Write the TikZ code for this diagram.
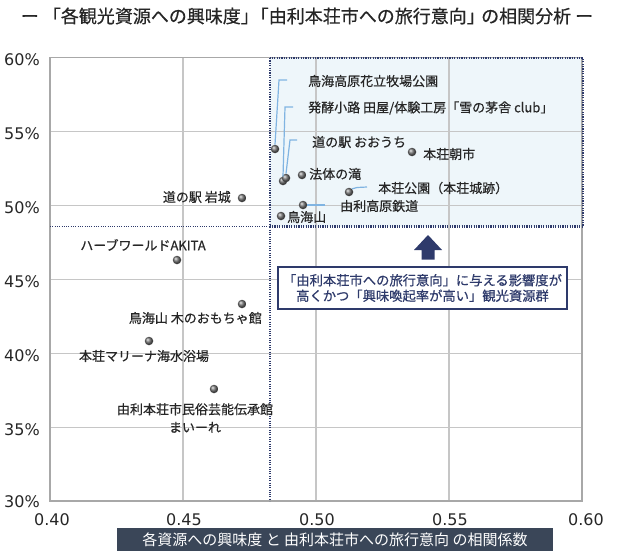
\documentclass[tikz,border=0pt]{standalone}
\usepackage{fontspec}
\setmainfont{Noto Sans CJK JP}[BoldFont=Noto Sans CJK JP, BoldFeatures={FakeBold=0.5}]
\newfontfamily\numfont{DejaVu Sans}
\definecolor{navy}{HTML}{2E3A6B}
\definecolor{gridc}{HTML}{C6C6C6}
\definecolor{framec}{HTML}{A8A8A8}
\definecolor{boxfill}{HTML}{EEF6FA}
\definecolor{leaderc}{HTML}{80B4E2}
\definecolor{txt}{HTML}{262626}
\definecolor{barc}{HTML}{3A4658}
\begin{document}
\begin{tikzpicture}[x=1pt,y=-1pt,
  lbl/.style={text=txt, font=\bfseries\fontsize{13}{17}\selectfont, inner sep=0pt},
  ptc/.style={circle, inner sep=0pt, minimum size=8.5pt, shading=ball, ball color=black!55},
  leader/.style={draw=leaderc, line width=1.2pt},
  ytick/.style={font=\numfont\fontsize{16}{18}\selectfont, anchor=east, inner sep=0pt, text=txt},
  xtick/.style={font=\numfont\fontsize{16}{18}\selectfont, inner sep=0pt, text=txt},
  gridl/.style={draw=gridc, line width=1.4pt},
  thresh/.style={draw=navy, line width=1.3pt, dash pattern=on 1pt off 1.3pt}]
\useasboundingbox (0,0) rectangle (618,551);

% title
\node[text=txt, font=\bfseries\fontsize{18}{20}\selectfont, inner sep=0pt] (title) at (307,16)
  {ー 「各観光資源への興味度」\kern-0.45em「由利本荘市への旅行意向」\kern-0.2em の相関分析 ー};

% highlight box fill
\fill[boxfill] (270,58) rectangle (583,226.5);

% grid
\foreach \gx in {183,316,449} \draw[gridl] (\gx,57.5) -- (\gx,501);
\foreach \gy in {131.5,205.5,279.5,353.5,427.5} \draw[gridl] (50,\gy) -- (582,\gy);
\draw[draw=framec, line width=1.8pt] (50,57.5) rectangle (582,501);

% threshold lines and box border
\coordinate (tl) at (50,226.5);
\coordinate (tc) at (270,226.5);
\coordinate (tb) at (270,501);
\draw[thresh] (tl) -- (tc) -- (tb);
\draw[draw=navy, line width=2.4pt, dash pattern=on 1.2pt off 1.2pt] (270,58) rectangle (583,226.5);

% tick labels
\node[ytick] (y60) at (40,60) {60\%};
\node[ytick] (y55) at (40,134) {55\%};
\node[ytick] (y50) at (40,208) {50\%};
\node[ytick] (y45) at (40,282) {45\%};
\node[ytick] (y40) at (40,356) {40\%};
\node[ytick] (y35) at (40,430) {35\%};
\node[ytick] (y30) at (40,502) {30\%};
\node[xtick] (x40) at (52,520) {0.40};
\node[xtick] (x45) at (184,520) {0.45};
\node[xtick] (x50) at (317,520) {0.50};
\node[xtick] (x55) at (450,520) {0.55};
\node[xtick] (x60) at (586,520) {0.60};

% points
\node[ptc] (p1) at (275,149) {};
\node[ptc] (p2) at (283,181) {};
\node[ptc] (p3) at (286,178) {};
\node[ptc] (p4) at (412,152) {};
\node[ptc] (p5) at (302,175) {};
\node[ptc] (p6) at (349,192) {};
\node[ptc] (p7) at (303,205) {};
\node[ptc] (p8) at (281,216) {};
\node[ptc] (q1) at (242,198) {};
\node[ptc] (q2) at (177,260) {};
\node[ptc] (q3) at (242,304) {};
\node[ptc] (q4) at (149,341) {};
\node[ptc] (q5) at (214,389) {};

% labels
\node[lbl, anchor=west] (l1) at (308,81) {鳥海高原花立牧場公園};
\node[lbl, anchor=west] (l2) at (308,108) {発酵小路 田屋/体験工房「雪の茅舎 club」};
\node[lbl, anchor=west] (l3) at (312,142) {道の駅 おおうち};
\node[lbl, anchor=west] (l4) at (423,154) {本荘朝市};
\node[lbl, anchor=west] (l5) at (309,174) {法体の滝};
\node[lbl, anchor=west] (l6) at (378,188) {本荘公園（本荘城跡）};
\node[lbl, anchor=west] (l7) at (340,206) {由利高原鉄道};
\node[lbl, anchor=west] (l8) at (287,217) {鳥海山};
\node[lbl, anchor=east] (m1) at (231,197) {道の駅 岩城};
\node[lbl] (m2) at (143,245) {ハーブワールドAKITA};
\node[lbl, anchor=east] (m3) at (262,318) {鳥海山 木のおもちゃ館};
\node[lbl] (m4) at (144,356) {本荘マリーナ海水浴場};
\node[lbl, align=center] (m5) at (195,418) {由利本荘市民俗芸能伝承館\\[1pt]まいーれ};

% leaders
\coordinate (c1a) at (279,80);  \coordinate (c1b) at (287,80);
\coordinate (c2a) at (285,107); \coordinate (c2b) at (293,107);
\coordinate (c3a) at (290,140); \coordinate (c3b) at (297,140);
\coordinate (c6a) at (357,187.5); \coordinate (c6b) at (367,187);
\coordinate (c7a) at (325,205);
\draw[leader] (p1.north) -- (c1a) -- (c1b);
\draw[leader] (p2.north) -- (c2a) -- (c2b);
\draw[leader] (p3.north) -- (c3a) -- (c3b);
\draw[leader] (p6.north east) -- (c6a) -- (c6b);
\draw[leader] (p7.east) -- (c7a);

% arrow
\fill[navy] (428,235) -- (442,250) -- (434.5,250) -- (434.5,259.5) -- (421.5,259.5) -- (421.5,250) -- (414,250) -- cycle;

% callout
\node[draw=navy, line width=1.8pt, fill=white, text=navy, align=center,
      minimum width=289pt, minimum height=42pt, inner sep=0pt,
      font=\bfseries\fontsize{13.3}{15.5}\selectfont] (callout) at (422.5,288)
  {「由利本荘市への旅行意向」に与える影響度が\\高くかつ「興味喚起率が高い」観光資源群};

% bottom bar
\node[fill=barc, text=white, minimum width=436pt, minimum height=23pt, inner sep=0pt,
      font=\fontsize{15}{17}\selectfont] (bar) at (335,539.5)
  {各資源への興味度 と 由利本荘市への旅行意向 の相関係数};
\end{tikzpicture}
\end{document}
